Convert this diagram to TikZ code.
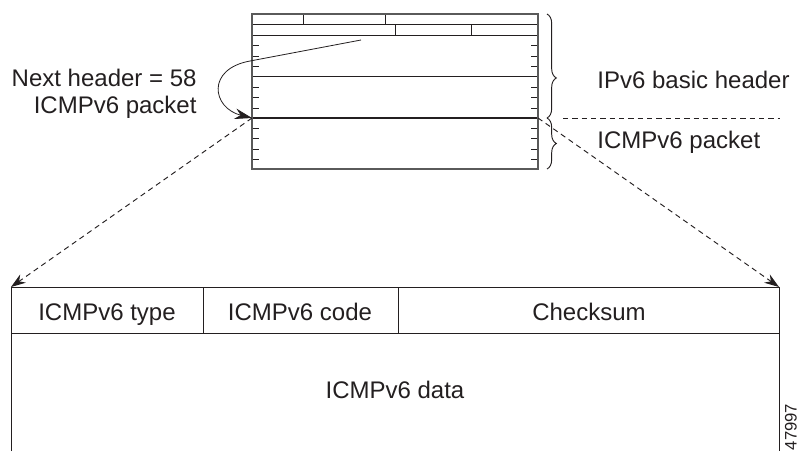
\documentclass[tikz,border=0pt]{standalone}
\usepackage{fontspec}
\setmainfont{Liberation Sans}
\usetikzlibrary{arrows.meta, decorations.pathreplacing}

\definecolor{ink}{HTML}{231F20}
\definecolor{frame}{HTML}{5A5A5A}

\begin{document}
\begin{tikzpicture}[x=0.75pt, y=-0.75pt, inner sep=0pt, line width=0.7pt, draw=ink, text=ink,
    font=\fontsize{18}{21}\selectfont,
    dashline/.style={dash pattern=on 4pt off 3pt, line width=0.7pt},
    tip/.style={-{Stealth[length=11pt, width=7.5pt]}},
    curly/.style={decorate, decoration={brace, amplitude=7pt, aspect=#1}},
    curly/.default=0.5]
    \useasboundingbox (0,0) rectangle (799,451);

    % IPv6 header outline
    \coordinate (hNW) at (252,14);
    \coordinate (hSE) at (538,169);
    \coordinate (pL) at (252,118);
    \coordinate (pR) at (538,118);
    \draw (252,24) -- (538,24);
    \draw (252,35) -- (538,35);
    \draw (252,76) -- (538,76);
    \draw[line width=1pt] (pL) -- (pR);
    \draw (303,14) -- (303,24);
    \draw (385,14) -- (385,24);
    \draw (395,24) -- (395,35);
    \draw (471,24) -- (471,35);
    \foreach \y in {45,56,66,87,97,108,128,138,149,159} {
      \draw (252,\y) -- (259,\y);
      \draw (531,\y) -- (538,\y);
    }
    \draw[frame, line width=1.1pt] (hNW) rectangle (hSE);

    \draw[curly=0.615] (547,14) -- (547,118);
    \draw[curly] (547,118) -- (547,169);

    \node[anchor=base west] (bh) at (597,88) {IPv6 basic header};
    \node[anchor=base west] (ip) at (597,148) {ICMPv6 packet};
    \coordinate (sepA) at (563,118);
    \coordinate (sepB) at (780,118);
    \draw[dashline] (sepA) -- (sepB);

    % next header pointer
    \node[anchor=base east] (nh) at (197,86) {Next header = 58};
    \node[anchor=base east] (np) at (197,113) {ICMPv6 packet};
    \coordinate (nf) at (361,40);
    \coordinate (nb) at (250,61);
    \draw[-{Stealth[length=13pt, width=8pt]}, line width=0.6pt] (nf) -- (nb) .. controls (206,69) and (212,108) .. (pL);

    % ICMPv6 packet
    \coordinate (bL) at (11,287);
    \coordinate (bR) at (779,287);
    \draw (11,451) -- (bL) -- (bR) -- (779,451);
    \draw (11,333) -- (779,333);
    \draw (203,287) -- (203,333);
    \draw (398,287) -- (398,333);

    \draw[dashline, tip] (pL) -- (bL);
    \draw[dashline, tip] (pR) -- (bR);

    \node[anchor=base] (ty) at (107,320) {ICMPv6 type};
    \node[anchor=base] (co) at (300,320) {ICMPv6 code};
    \node[anchor=base] (cs) at (589,320) {Checksum};
    \node[anchor=base] (da) at (395,398) {ICMPv6 data};
    \node[rotate=90, font=\fontsize{12.5}{14}\selectfont] (fig) at (791,427) {47997};
\end{tikzpicture}
\end{document}
